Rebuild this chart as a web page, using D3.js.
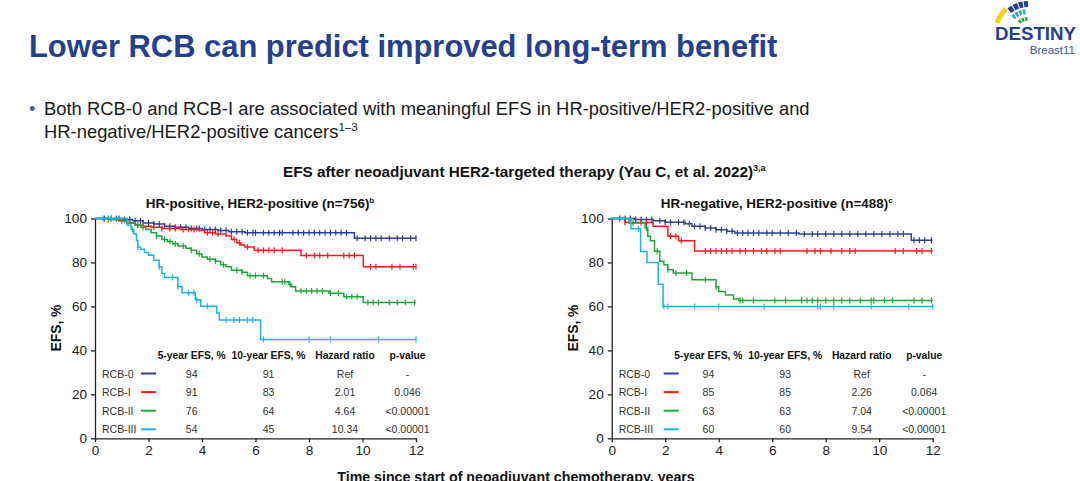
<!DOCTYPE html>
<html>
<head>
<meta charset="utf-8">
<script src="https://cdn.jsdelivr.net/npm/d3@7"></script>
<style>
  body { margin: 0; background: #fff; }
  svg { font-family: "Liberation Sans", Arial, sans-serif; display: block; }
</style>
</head>
<body>
<div id="chart"></div>
<script>
// Kaplan-Meier steps: [time in years, EFS %]
const hrPosRcb0 = [[0,100],[1.0,99.5],[1.4,99],[1.8,98],[2.2,97.5],[2.6,96.5],[3.0,96],[3.5,95.5],[4.0,95],[4.6,94.5],[5.0,94],[5.6,93.5],[9.7,91]];
const hrPosRcb1 = [[0,100],[0.5,99.5],[0.9,99],[1.2,98],[1.5,97],[1.8,96.5],[2.1,96],[2.5,95.5],[3.2,95],[3.9,94.5],[4.1,93.5],[4.5,93],[4.9,92],[5.1,90.5],[5.3,89],[5.45,88],[5.6,87],[5.95,85.5],[7.7,83.2],[10.03,78]];
const hrPosRcb2 = [[0,100],[0.6,99.5],[1.0,99],[1.3,98],[1.5,97],[1.7,96],[1.9,95],[2.1,93.5],[2.3,92],[2.5,90.5],[2.7,89.5],[2.9,88.5],[3.1,87.5],[3.4,86.5],[3.6,85.5],[3.8,84],[4.0,82.5],[4.2,81.5],[4.5,80.5],[4.7,79],[4.9,78],[5.1,76.5],[5.5,75.5],[5.7,74],[6.45,72.7],[6.6,71.2],[7.25,70],[7.35,69],[7.5,67],[8.75,66],[9.3,64.4],[10.02,61.8]];
const hrPosRcb3 = [[0,100],[1.2,97],[1.35,95],[1.45,93],[1.55,90],[1.6,87],[1.7,86],[1.85,84.5],[2.0,83.3],[2.2,81],[2.4,78],[2.5,75],[2.6,73.2],[3.1,69],[3.25,66.2],[3.75,63],[3.95,60.1],[4.55,57],[4.65,53.8],[6.19,45]];

const hrNegRcb0 = [[0,100],[0.85,99.5],[1.55,99],[2.0,98.3],[2.75,97.6],[3.0,96.5],[3.5,95.7],[3.9,94.9],[4.3,94.2],[4.6,93.4],[7.0,92.9],[11.2,90.1]];
const hrNegRcb1 = [[0,100],[0.5,98.2],[1.55,96.5],[2.1,91.9],[2.5,89.9],[3.1,85.2]];
const hrNegRcb2 = [[0,100],[0.65,98],[1.25,95.7],[1.35,91.9],[1.45,89.9],[1.6,85.1],[1.8,80.5],[1.95,79],[2.1,76.7],[2.3,75.2],[3.0,72.1],[3.9,69],[4.0,66.8],[4.25,65.2],[4.55,63.4],[4.75,62.7]];
const hrNegRcb3 = [[0,100],[0.72,95.3],[1.08,85],[1.32,80],[1.74,70.1],[1.92,60]];

// censoring marks (years)
const hrPosCens0 = [0.35,0.6,0.8,0.9,1.1,1.3,1.5,1.7,2.0,2.2,2.4,2.6,2.8,3.0,3.2,3.4,3.6,3.8,3.9,4.1,4.3,4.5,4.7,4.9,5.1,5.3,5.5,5.7,5.9,6.0,6.3,6.5,6.7,6.9,7.0,7.4,7.6,7.8,8.0,8.2,8.4,8.6,8.8,9.0,9.2,9.4,9.8,10.1,10.3,10.5,10.7,11.0,11.3,11.5,11.8,12.0];
const hrPosCens1 = [0.5,1.0,1.6,2.2,2.5,2.8,3.0,3.3,3.5,3.7,4.2,4.4,4.6,5.2,5.4,5.7,6.1,6.3,6.5,6.7,7.0,7.9,8.2,8.4,8.7,9.3,9.5,9.7,10.3,10.5,11.1,11.4,11.9,12.0];
const hrPosCens2 = [0.5,1.2,1.8,2.3,2.6,2.8,3.0,3.3,3.6,3.9,4.3,4.5,4.8,5.3,5.5,5.8,6.0,6.3,7.0,7.1,7.3,7.7,7.9,8.1,8.3,8.5,8.8,9.1,9.4,9.6,9.8,10.2,10.4,10.6,11.0,11.3,11.6,11.95];
const hrPosCens3 = [0.3,0.6,1.4,1.6,2.4,2.9,3.1,3.5,3.7,3.8,4.2,4.9,5.2,5.4,5.7,5.9,6.3,8.0,8.8,10.6,12.0];

const hrNegCens0 = [0.3,0.5,0.7,0.9,1.1,1.3,1.5,1.8,2.0,2.2,2.5,2.7,2.9,3.1,3.3,3.5,3.7,3.9,4.1,4.3,4.5,4.7,4.9,5.1,5.3,5.5,5.8,6.0,6.3,6.6,6.9,7.2,7.5,7.7,8.0,8.3,8.6,8.9,9.2,9.5,9.8,10.1,10.4,10.7,10.9,11.3,11.5,11.7,11.95];
const hrNegCens1 = [0.5,1.1,1.3,2.2,2.4,2.6,3.5,3.7,3.9,4.1,4.3,4.5,4.8,5.0,5.3,5.6,5.8,6.1,6.3,7.3,7.6,7.8,8.2,8.6,8.9,9.1,10.6,10.9,11.4,11.6,11.95];
const hrNegCens2 = [0.8,1.3,1.7,2.1,2.4,2.8,3.5,3.9,4.8,4.9,5.3,6.1,6.5,7.1,7.3,7.5,7.7,8.0,8.3,8.6,8.9,9.3,9.7,9.8,10.2,10.5,11.3,11.6,11.95];
const hrNegCens3 = [1.0,1.95,2.1,3.1,4.0,5.7,7.7,7.8,8.3,9.7,11.1,12.0];

// table values
const groups = ["RCB-0", "RCB-I", "RCB-II", "RCB-III"];
const tableHeaders = ["5-year EFS, %", "10-year EFS, %", "Hazard ratio", "p-value"];
const hrPosEfs5 = [94, 91, 76, 54];
const hrPosEfs10 = [91, 83, 64, 45];
const hrPosHazard = ["Ref", "2.01", "4.64", "10.34"];
const hrPosP = ["-", "0.046", "<0.00001", "<0.00001"];
const hrNegEfs5 = [94, 85, 63, 60];
const hrNegEfs10 = [93, 85, 63, 60];
const hrNegHazard = ["Ref", "2.26", "7.04", "9.54"];
const hrNegP = ["-", "0.064", "<0.00001", "<0.00001"];

const xTicks = [0, 2, 4, 6, 8, 10, 12];
const yTicks = [0, 20, 40, 60, 80, 100];

const colors = ["#2E3F95", "#FF1A1A", "#1FA83A", "#1DB4EC"];
const width = 1080, height = 481;

const svg = d3.select("#chart").append("svg")
    .attr("width", width)
    .attr("height", height);

// slide header
svg.append("text")
    .attr("x", 29).attr("y", 57)
    .attr("font-size", 30.9).attr("font-weight", "bold")
    .attr("fill", "#253F91")
    .text("Lower RCB can predict improved long-term benefit");

svg.append("text")
    .attr("x", 29).attr("y", 115)
    .attr("font-size", 18).attr("fill", "#3a5aa6")
    .text("•");
const bullet = svg.append("g").attr("font-size", 18.4).attr("fill", "#1a1a1a");
bullet.append("text").attr("x", 44).attr("y", 115)
    .text("Both RCB-0 and RCB-I are associated with meaningful EFS in HR-positive/HER2-positive and");
const line2 = bullet.append("text").attr("x", 44).attr("y", 138);
line2.append("tspan").text("HR-negative/HER2-positive cancers");
line2.append("tspan").attr("font-size", 11.5).attr("dy", -7).text("1\u20133");

const sup = svg.append("text")
    .attr("x", 283).attr("y", 177)
    .attr("font-size", 15.3).attr("font-weight", "bold").attr("fill", "#111");
sup.append("tspan").text("EFS after neoadjuvant HER2-targeted therapy (Yau C, et al. 2022)");
sup.append("tspan").attr("font-size", 9).attr("dy", -6).text("3,a");

svg.append("text")
    .attr("x", 516).attr("y", 482)
    .attr("text-anchor", "middle")
    .attr("font-size", 14.2).attr("font-weight", "bold").attr("fill", "#111")
    .text("Time since start of neoadjuvant chemotherapy, years");

// logo
const logo = svg.append("g").attr("transform", "translate(1028,33)");
const arc = d3.arc();
const deg = Math.PI / 180;
logo.append("path")
    .attr("d", arc({innerRadius: 30, outerRadius: 35, startAngle: -72 * deg, endAngle: -42 * deg}))
    .attr("fill", "#F2D31B");
[[-40, -31], [-29, -20], [-18, -10], [-8, 0]].forEach(a => {
    logo.append("path")
        .attr("d", arc({innerRadius: 26, outerRadius: 32, startAngle: a[0] * deg, endAngle: a[1] * deg}))
        .attr("fill", "#263F93");
});
[[-44, -37], [-34, -27], [-24, -17], [-14, -7]].forEach(a => {
    logo.append("path")
        .attr("d", arc({innerRadius: 19, outerRadius: 24, startAngle: a[0] * deg, endAngle: a[1] * deg}))
        .attr("fill", "#2FA3DA");
});
[[-40, -30], [-26, -16], [-12, -2]].forEach(a => {
    logo.append("path")
        .attr("d", arc({innerRadius: 12, outerRadius: 16, startAngle: a[0] * deg, endAngle: a[1] * deg}))
        .attr("fill", "#2DAA4A");
});
svg.append("text")
    .attr("x", 1076).attr("y", 40).attr("text-anchor", "end")
    .attr("font-size", 18.7).attr("font-weight", "bold").attr("fill", "#253F91")
    .text("DESTINY");
svg.append("text")
    .attr("x", 1075).attr("y", 54).attr("text-anchor", "end")
    .attr("font-size", 11.5).attr("fill", "#3B58A8")
    .text("Breast11");

function drawPanel(p) {
    const x = d3.scaleLinear().domain([0, 12]).range([p.left, p.left + 321]);
    const y = d3.scaleLinear().domain([0, 100]).range([438.3, 218.5]);
    const g = svg.append("g");

    // title
    const t = g.append("text")
        .attr("x", p.left + 165).attr("y", 208)
        .attr("text-anchor", "middle")
        .attr("font-size", 13.4).attr("font-weight", "bold").attr("fill", "#111");
    t.append("tspan").text(p.title);
    t.append("tspan").attr("font-size", 8).attr("dy", -5).text(p.note);

    // axes
    const yAxis = g.append("g")
        .attr("transform", `translate(${p.left},0)`)
        .call(d3.axisLeft(y).tickValues(yTicks).tickSize(4).tickSizeOuter(0).tickPadding(4));
    const xAxis = g.append("g")
        .attr("transform", `translate(0,438.3)`)
        .call(d3.axisBottom(x).tickValues(xTicks).tickSize(4).tickSizeOuter(0).tickPadding(3));
    [xAxis, yAxis].forEach(a => {
        a.selectAll("path, line").attr("stroke", "#222").attr("stroke-width", 1.3);
        a.selectAll("text").attr("font-size", 13.6).attr("fill", "#222")
            .attr("font-family", "'Liberation Sans', Arial, sans-serif");
    });

    g.append("text")
        .attr("transform", `translate(${p.left - 34},328) rotate(-90)`)
        .attr("text-anchor", "middle")
        .attr("font-size", 13.8).attr("font-weight", "bold").attr("fill", "#111")
        .text("EFS, %");

    // curves + censor ticks
    const line = d3.line()
        .x(d => x(d[0]))
        .y(d => y(d[1]))
        .curve(d3.curveStepAfter);
    const bis = d3.bisector(d => d[0]).right;
    p.steps.forEach((s, i) => {
        const pts = s.concat([[12, s[s.length - 1][1]]]);
        g.append("path")
            .attr("d", line(pts))
            .attr("fill", "none")
            .attr("stroke", colors[i])
            .attr("stroke-width", 1.5);
        g.selectAll(null)
            .data(p.cens[i])
            .join("line")
            .attr("x1", d => x(d)).attr("x2", d => x(d))
            .attr("y1", d => y(s[bis(s, d) - 1][1]) - 3)
            .attr("y2", d => y(s[bis(s, d) - 1][1]) + 3)
            .attr("stroke", colors[i])
            .attr("stroke-width", 1.2);
    });

    // table
    const colX = [96.7, 173.5, 250, 312.5];
    g.selectAll(null)
        .data(tableHeaders)
        .join("text")
        .attr("x", (d, i) => p.left + colX[i])
        .attr("y", 359)
        .attr("text-anchor", "middle")
        .attr("font-size", 10.3).attr("font-weight", "bold").attr("fill", "#111")
        .text(d => d);
    const cols = [p.efs5, p.efs10, p.hazard, p.pval];
    groups.forEach((name, r) => {
        const ry = 373.5 + r * 18.6;
        g.append("text")
            .attr("x", p.left + 7).attr("y", ry + 4)
            .attr("font-size", 10.5).attr("fill", "#333")
            .text(name);
        g.append("line")
            .attr("x1", p.left + p.keyX).attr("x2", p.left + p.keyX + 15)
            .attr("y1", ry).attr("y2", ry)
            .attr("stroke", colors[r]).attr("stroke-width", 2);
        cols.forEach((c, j) => {
            g.append("text")
                .attr("x", p.left + colX[j]).attr("y", ry + 4)
                .attr("text-anchor", "middle")
                .attr("font-size", 10.5).attr("fill", "#333")
                .text(c[r]);
        });
    });
}

drawPanel({
    left: 95, keyX: 46,
    title: "HR-positive, HER2-positive (n=756)", note: "b",
    steps: [hrPosRcb0, hrPosRcb1, hrPosRcb2, hrPosRcb3],
    cens: [hrPosCens0, hrPosCens1, hrPosCens2, hrPosCens3],
    efs5: hrPosEfs5, efs10: hrPosEfs10, hazard: hrPosHazard, pval: hrPosP
});
drawPanel({
    left: 611.7, keyX: 52,
    title: "HR-negative, HER2-positive (n=488)", note: "c",
    steps: [hrNegRcb0, hrNegRcb1, hrNegRcb2, hrNegRcb3],
    cens: [hrNegCens0, hrNegCens1, hrNegCens2, hrNegCens3],
    efs5: hrNegEfs5, efs10: hrNegEfs10, hazard: hrNegHazard, pval: hrNegP
});
</script>
</body>
</html>
